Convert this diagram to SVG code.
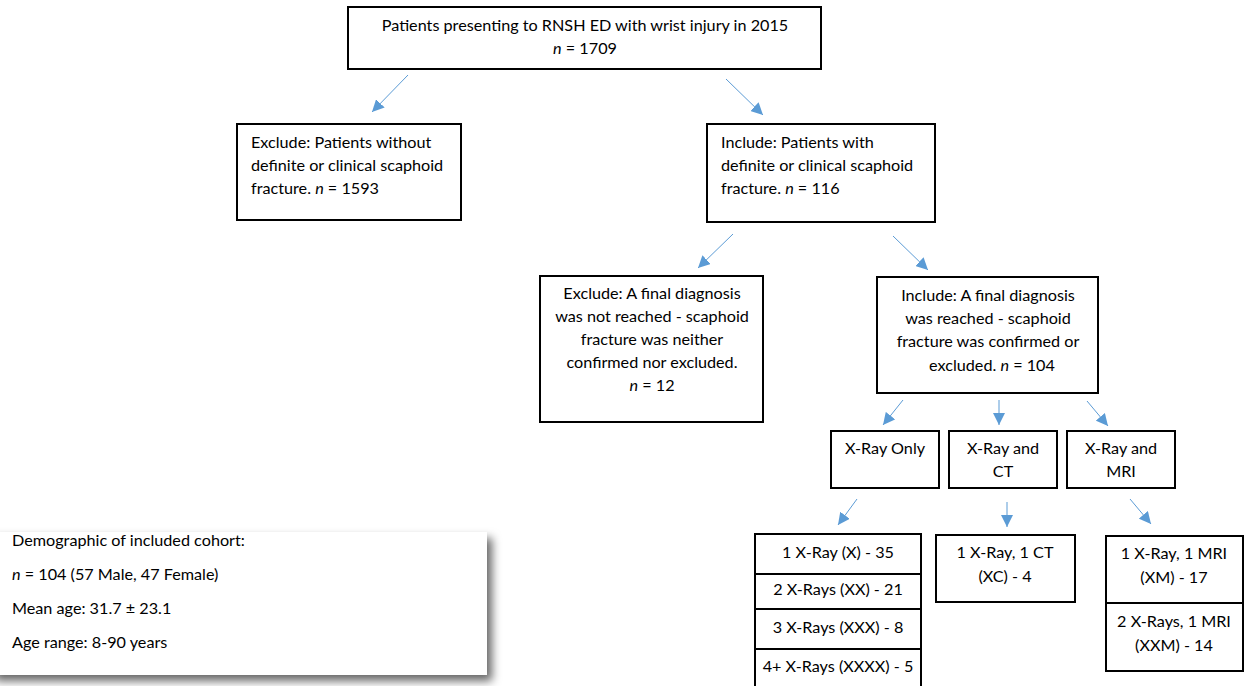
<svg xmlns="http://www.w3.org/2000/svg" width="1244" height="686" viewBox="0 0 1244 686">
<style>
.box{fill:#fff;stroke:#000;stroke-width:2}
.div{stroke:#000;stroke-width:2}
text{font-family:Lato,"Liberation Sans",sans-serif;font-size:16.2px;fill:#000}
.c{text-anchor:middle}
.i{font-style:italic}
.con line{stroke:#5b9bd5;stroke-width:1;marker-end:url(#ah)}
</style>
<defs>
<marker id="ah" markerUnits="userSpaceOnUse" markerWidth="12" markerHeight="12" refX="10" refY="5" orient="auto" viewBox="0 0 10 10">
<path d="M0,0 L10,5 L0,10 z" fill="#5b9bd5"/>
</marker>
<filter id="sh" x="-10%" y="-20%" width="130%" height="150%">
<feDropShadow dx="5" dy="6" stdDeviation="5" flood-color="#000" flood-opacity="0.6"/>
</filter>
</defs>
<rect width="1244" height="686" fill="#fff"/>
<g id="top"><rect class="box" x="348" y="7" width="473" height="62"/>
<text class="c" x="585" y="31">Patients presenting to RNSH ED with wrist injury in 2015</text>
<text class="c" x="585" y="54"><tspan class="i">n</tspan> = 1709</text></g>
<g id="excl1"><rect class="box" x="237" y="124" width="224" height="96"/>
<text x="251" y="148">Exclude: Patients without</text>
<text x="251" y="171">definite or clinical scaphoid</text>
<text x="251" y="194">fracture. <tspan class="i">n</tspan> = 1593</text></g>
<g id="incl1"><rect class="box" x="707" y="124" width="228" height="98"/>
<text x="721" y="148">Include: Patients with</text>
<text x="721" y="171">definite or clinical scaphoid</text>
<text x="721" y="194">fracture. <tspan class="i">n</tspan> = 116</text></g>
<g id="excl2"><rect class="box" x="540" y="276" width="223" height="146"/>
<text class="c" x="652" y="299">Exclude: A final diagnosis</text>
<text class="c" x="652" y="322">was not reached - scaphoid</text>
<text class="c" x="652" y="345">fracture was neither</text>
<text class="c" x="652" y="368">confirmed nor excluded.</text>
<text class="c" x="652" y="391"><tspan class="i">n</tspan> = 12</text></g>
<g id="incl2"><rect class="box" x="877" y="277" width="221" height="116"/>
<text class="c" x="988" y="301">Include: A final diagnosis</text>
<text class="c" x="988" y="324">was reached - scaphoid</text>
<text class="c" x="988" y="347">fracture was confirmed or</text>
<text class="c" x="992" y="371">excluded. <tspan class="i">n</tspan> = 104</text></g>
<g id="xonly"><rect class="box" x="831" y="431" width="108" height="57"/>
<text class="c" x="885" y="454">X-Ray Only</text></g>
<g id="xct"><rect class="box" x="949" y="431" width="108" height="57"/>
<text class="c" x="1003" y="454">X-Ray and</text>
<text class="c" x="1003" y="477">CT</text></g>
<g id="xmri"><rect class="box" x="1067" y="431" width="108" height="57"/>
<text class="c" x="1121" y="454">X-Ray and</text>
<text class="c" x="1121" y="477">MRI</text></g>
<g id="xstack"><rect class="box" x="755" y="534" width="166" height="160"/>
<line class="div" x1="755" y1="574" x2="921" y2="574"/>
<line class="div" x1="755" y1="609" x2="921" y2="609"/>
<line class="div" x1="755" y1="649" x2="921" y2="649"/>
<text class="c" x="838" y="558">1 X-Ray (X) - 35</text>
<text class="c" x="838" y="595">2 X-Rays (XX) - 21</text>
<text class="c" x="838" y="633">3 X-Rays (XXX) - 8</text>
<text class="c" x="838" y="672">4+ X-Rays (XXXX) - 5</text></g>
<g id="ctres"><rect class="box" x="936" y="535" width="139" height="67"/>
<text class="c" x="1005" y="558">1 X-Ray, 1 CT</text>
<text class="c" x="1005" y="582">(XC) - 4</text></g>
<g id="mrires"><rect class="box" x="1106" y="536" width="137" height="135"/>
<line class="div" x1="1106" y1="603" x2="1243" y2="603"/>
<text class="c" x="1174" y="559">1 X-Ray, 1 MRI</text>
<text class="c" x="1174" y="583">(XM) - 17</text>
<text class="c" x="1174" y="627">2 X-Rays, 1 MRI</text>
<text class="c" x="1174" y="651">(XXM) - 14</text></g>
<g id="demo"><rect x="-10" y="532" width="497" height="143" fill="#fff" filter="url(#sh)"/>
<text x="12" y="546">Demographic of included cohort:</text>
<text x="12" y="580"><tspan class="i">n</tspan> = 104 (57 Male, 47 Female)</text>
<text x="12" y="614">Mean age: 31.7 ± 23.1</text>
<text x="12" y="648">Age range: 8-90 years</text></g>
<g id="connectors" class="con">
<line x1="408" y1="75" x2="372" y2="112"/>
<line x1="726" y1="79" x2="763" y2="115"/>
<line x1="733" y1="234" x2="698" y2="268"/>
<line x1="893" y1="236" x2="928" y2="270"/>
<line x1="903" y1="400" x2="883" y2="425"/>
<line x1="999" y1="400" x2="999" y2="425"/>
<line x1="1087" y1="401" x2="1108" y2="426"/>
<line x1="857" y1="499" x2="838" y2="525"/>
<line x1="1007" y1="502" x2="1007" y2="527"/>
<line x1="1130" y1="499" x2="1151" y2="524"/>
</g>
</svg>
